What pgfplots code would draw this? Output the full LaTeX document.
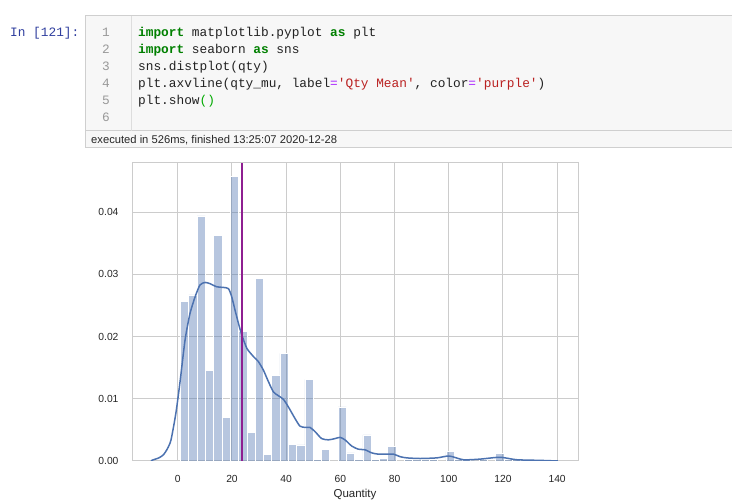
\documentclass[border=0pt]{standalone}
\usepackage{fontspec}
\setmainfont{Liberation Sans}
\setmonofont{Liberation Mono}
\usepackage{xcolor}
\usepackage{pgfplots}
\pgfplotsset{compat=1.18}

\definecolor{sbblue}{HTML}{4C72B0}
\definecolor{gridc}{HTML}{CCCCCC}
\definecolor{cellbg}{HTML}{F7F7F7}
\definecolor{cellbd}{HTML}{CFCFCF}
\definecolor{gutterln}{HTML}{DDDDDD}
\definecolor{prompt}{HTML}{303F9F}
\definecolor{kw}{HTML}{008000}
\definecolor{brk}{HTML}{00AA00}
\definecolor{str}{HTML}{BA2121}
\definecolor{op}{HTML}{AA22FF}
\definecolor{lnum}{HTML}{999999}
\definecolor{code}{HTML}{222222}
\definecolor{meanc}{HTML}{8E1F91}
\definecolor{txt}{HTML}{262626}

\newcommand\codefs{\ttfamily\fontsize{12.8}{15}\selectfont}
\newcommand\kw[1]{\textcolor{kw}{\bfseries #1}}

% histogram: bin centres (start 1, width 3.06) and densities
\pgfplotstableread{
x      y
2.53   0.0256
5.59   0.0267
8.65   0.0394
11.71  0.0145
14.77  0.0362
17.83  0.0070
20.89  0.0457
23.95  0.0208
27.01  0.0046
30.07  0.0293
33.13  0.0010
36.19  0.0138
39.25  0.0173
42.31  0.0027
45.37  0.0026
48.43  0.0131
51.49  0.0002
54.55  0.0018
60.67  0.0087
63.73  0.0013
66.79  0.0002
69.85  0.0042
72.91  0.0002
75.97  0.0004
79.03  0.0023
85.15  0.0003
88.21  0.0003
91.27  0.0002
94.33  0.0002
100.45 0.0015
103.51 0.0002
106.57 0.0002
112.69 0.0002
118.81 0.0012
121.87 0.0002
124.93 0.0002
127.99 0.0002
}\histdata

% kde curve
\pgfplotstableread{
x      y
-9.85  0.0000
-9.6   0.0001
-7.0   0.0005
-5.3   0.0010
-3.8   0.0020
-2.5   0.0034
-0.7   0.0077
0.85   0.0128
2.7    0.0195
4.5    0.0237
6.4    0.0264
8.2    0.0283
10.1   0.0287
11.9   0.0285
14.4   0.0280
16.8   0.0279
18.7   0.0277
19.9   0.0264
21.1   0.0243
22.4   0.0221
23.6   0.0203
25.5   0.0181
27.9   0.0168
29.7   0.0160
31.6   0.0146
33.4   0.0128
35.3   0.0111
37.1   0.0105
39.0   0.0099
40.8   0.0087
43.3   0.0068
45.1   0.0056
47.0   0.0054
48.8   0.0054
50.7   0.0047
53.1   0.0036
55.6   0.0034
58.0   0.0036
59.9   0.0038
61.7   0.0034
64.2   0.0024
66.6   0.0019
69.1   0.0018
71.6   0.0013
74.0   0.0011
77.1   0.0011
79.6   0.0011
82.0   0.0007
84.5   0.0005
89.4   0.0004
95.6   0.0005
100.2  0.0008
105.4  0.0002
111.5  0.0003
118.9  0.0006
125.1  0.0002
133.7  0.0001
140.3  0.0000
}\kdedata

\begin{document}
\begin{tikzpicture}
\fill[white] (0pt,0pt) rectangle (732pt,503pt);
\useasboundingbox (0pt,0pt) rectangle (732pt,503pt);

% notebook cell
\begin{scope}[x=1pt,y=1pt]
\filldraw[fill=cellbg, draw=cellbd, line width=1pt] (85,355) rectangle (733,487);
\draw[cellbd, line width=1pt] (85,372) -- (733,372);
\draw[gutterln, line width=1pt] (131.5,372) -- (131.5,487);
\node[anchor=base west, inner sep=0, font=\codefs, text=prompt] at (10,466) {In [121]:};

\foreach \n/\yy in {1/466,2/449,3/432,4/415,5/398,6/381}
  \node[anchor=base, inner sep=0, font=\codefs, text=lnum] at (106,\yy) {\n};

\begin{scope}[every node/.style={anchor=base west, inner sep=0, font=\codefs, text=code}]
\node at (138,466) {\kw{import} matplotlib.pyplot \kw{as} plt};
\node at (138,449) {\kw{import} seaborn \kw{as} sns};
\node at (138,432) {sns.distplot(qty)};
\node at (138,415) {plt.axvline(qty\_mu, label\textcolor{op}{=}\textcolor{str}{'Qty Mean'}, color\textcolor{op}{=}\textcolor{str}{'purple'})};
\node at (138,398) {plt.show\textcolor{brk}{()}};
\end{scope}
\node[anchor=base west, inner sep=0, font=\fontsize{11.2}{13}\selectfont, text=black!85] at (91,359) {executed in 526ms, finished 13:25:07 2020-12-28};
\end{scope}

\begin{axis}[
    at={(132pt,42pt)}, anchor=south west,
    scale only axis, width=446pt, height=298pt,
    xmin=-16.9, xmax=147.7,
    ymin=0, ymax=0.0479,
    xtick={0,20,...,140},
    ytick={0,0.01,0.02,0.03,0.04},
    scaled y ticks=false,
    grid=major,
    major grid style={gridc, line width=1pt},
    axis line style={gridc, line width=1pt},
    major tick length=0pt,
    tick label style={font=\fontsize{10.3}{12}\selectfont, text=txt},
    /pgf/number format/assume math mode=true,
    yticklabel style={/pgf/number format/.cd, fixed, fixed zerofill, precision=2, /tikz/.cd, xshift=-10pt},
    xticklabel style={yshift=-11pt},
    xlabel={Quantity},
    xlabel style={font=\fontsize{11.5}{13}\selectfont, text=txt, yshift=1pt},
]
\addplot[ybar, bar width=3.06, bar shift=0pt, fill=sbblue, fill opacity=0.4, draw=white, line width=0.6pt] table[x=x, y=y] {\histdata};
\addplot[sbblue, line width=1.5pt, smooth, tension=0.4] table[x=x, y=y] {\kdedata};
\addplot[draw=meanc, line width=2pt] coordinates {(23.6,0) (23.6,0.0479)};
\end{axis}
\end{tikzpicture}
\end{document}
